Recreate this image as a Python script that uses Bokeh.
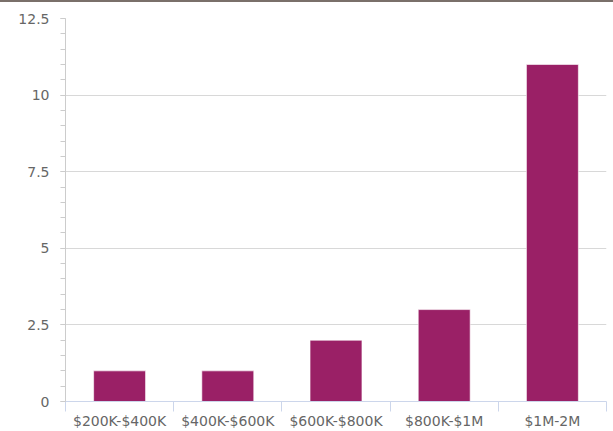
from bokeh.plotting import figure
from bokeh.models import Range1d, FixedTicker, NumeralTickFormatter, ColumnDataSource, Div
from bokeh.layouts import column
from bokeh.embed import file_html
from bokeh.resources import INLINE

categories = ["$200K-$400K", "$400K-$600K", "$600K-$800K", "$800K-$1M", "$1M-2M"]
counts = [1, 1, 2, 3, 11]
y_ticks = [0, 2.5, 5, 7.5, 10, 12.5]

n = len(categories)
xpos = [i + 0.5 for i in range(n)]
src = ColumnDataSource(dict(x=xpos, top=counts, cat=categories))

p = figure(width=613, height=429, output_backend="svg", toolbar_location=None,
           x_range=Range1d(0, n), y_range=Range1d(0, 12.5),
           min_border_left=65, min_border_top=16, min_border_right=7, min_border_bottom=30)
p.outline_line_color = None
p.background_fill_color = "white"

p.vbar(x="x", top="top", width=0.48, source=src, fill_color="#9a2066",
       line_color="white", line_width=1, line_alpha=0.6)

FONT = "DejaVu Sans"
GREY = "#666666"

# x axis
xa = p.xaxis[0]
xa.ticker = FixedTicker(ticks=xpos, minor_ticks=list(range(n + 1)))
xa.major_label_overrides = {x: c for x, c in zip(xpos, categories)}
xa.axis_line_color = "#ccd6eb"
xa.major_tick_line_color = None
xa.major_tick_out = 0
xa.major_tick_in = 0
xa.minor_tick_line_color = "#ccd6eb"
xa.minor_tick_out = 10
xa.minor_tick_in = 0
xa.major_label_standoff = 1
xa.major_label_text_font = FONT
xa.major_label_text_font_size = "14px"
xa.major_label_text_color = GREY

# y axis
ya = p.yaxis[0]
ya.ticker = FixedTicker(ticks=y_ticks, minor_ticks=[i * 0.5 for i in range(26)])
ya.formatter = NumeralTickFormatter(format="0.[0]")
ya.axis_line_color = "#cccccc"
ya.major_tick_line_color = "#cccccc"
ya.minor_tick_line_color = "#cccccc"
ya.major_tick_out = 5
ya.major_tick_in = 0
ya.minor_tick_out = 5
ya.minor_tick_in = 0
ya.major_label_standoff = 11
ya.major_label_text_font = FONT
ya.major_label_text_font_size = "14px"
ya.major_label_text_color = GREY

p.xgrid.grid_line_color = None
p.ygrid.ticker = FixedTicker(ticks=y_ticks)
p.ygrid.grid_line_color = "#d8d8d8"

top_line = Div(text="", width=613, height=2,
               styles={"background-color": "#7a706a", "margin": "0", "padding": "0"})
layout = column(top_line, p, spacing=0)

open("out.html", "w").write(file_html(layout, INLINE))
